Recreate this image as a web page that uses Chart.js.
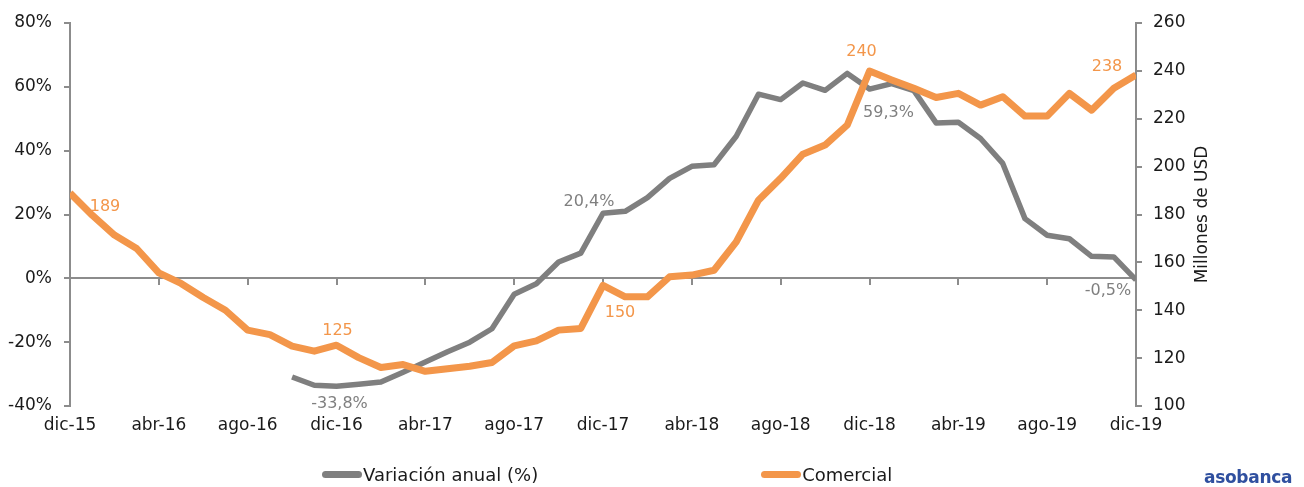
<!DOCTYPE html>
<html>
<head>
<meta charset="utf-8">
<script src="https://cdn.jsdelivr.net/npm/chart.js@4.4.1/dist/chart.umd.min.js"></script>
<style>
  html, body { margin: 0; padding: 0; background: #ffffff; }
  #wrap { position: relative; width: 1304px; height: 487px; overflow: hidden; }
  #c { position: absolute; left: 0; top: 0; }
  #legend { position: absolute; left: 322px; top: 464px; display: flex; align-items: center; gap: 223px;
            font-family: "DejaVu Sans", sans-serif; font-size: 18px; color: #1a1a1a; }
  #legend .item { display: flex; align-items: center; }
  #legend .swatch { width: 40px; height: 7px; border-radius: 4px; margin-right: 1px; }
  #logo { position: absolute; left: 1204px; top: 467px; font-family: "DejaVu Sans", sans-serif;
          font-weight: bold; font-size: 17px; color: #2f4f9f; letter-spacing: -0.3px; }
</style>
</head>
<body>
<div id="wrap">
  <canvas id="c" width="1304" height="487"></canvas>
  <div id="legend"></div>
  <div id="logo">asobanca</div>
</div>
<script>
// ---------- DATA ----------
const months = [
  'dic-15','ene-16','feb-16','mar-16','abr-16','may-16','jun-16','jul-16','ago-16','sep-16','oct-16','nov-16',
  'dic-16','ene-17','feb-17','mar-17','abr-17','may-17','jun-17','jul-17','ago-17','sep-17','oct-17','nov-17',
  'dic-17','ene-18','feb-18','mar-18','abr-18','may-18','jun-18','jul-18','ago-18','sep-18','oct-18','nov-18',
  'dic-18','ene-19','feb-19','mar-19','abr-19','may-19','jun-19','jul-19','ago-19','sep-19','oct-19','nov-19',
  'dic-19'
];

// Variación anual (%) - left axis
const variacionAnual = [
  null, null, null, null, null, null, null, null, null, null, -30.9, -33.5,
  -33.8, -33.2, -32.5, -29.4, -26.2, -23.0, -20.0, -15.8, -5.0, -1.7, 5.1, 7.9,
  20.4, 21.0, 25.3, 31.3, 35.1, 35.6, 44.5, 57.7, 56.0, 61.2, 58.9, 64.2,
  59.3, 61.0, 58.8, 48.7, 48.9, 43.8, 36.0, 18.7, 13.5, 12.4, 6.9, 6.7,
  -0.5
];

// Comercial (millones de USD) - right axis
const comercial = [
  189.0, 179.7, 171.4, 165.8, 155.6, 151.2, 145.3, 140.0, 131.7, 129.8, 125.0, 122.9,
  125.4, 120.2, 116.1, 117.3, 114.5, 115.6, 116.6, 118.2, 125.1, 127.2, 131.7, 132.4,
  150.4, 145.6, 145.6, 154.0, 154.7, 156.7, 168.6, 186.0, 195.1, 205.2, 209.0, 217.4,
  239.9, 236.2, 232.7, 228.9, 230.6, 225.7, 229.2, 221.1, 221.1, 230.6, 223.6, 232.7,
  238.3
];

const leftTicks = [-40, -20, 0, 20, 40, 60, 80];
const rightTicks = [100, 120, 140, 160, 180, 200, 220, 240, 260];

// indices of points that carry a data label
const variacionLabelIdx = [12, 24, 36, 48];
const comercialLabelIdx = [0, 12, 24, 36, 48];

// ---------- STYLE ----------
const GRAY = '#7f7f7f';
const ORANGE = '#f3964a';
const AXIS = '#8c8c8c';
const FONT = '"DejaVu Sans", sans-serif';

// label offsets (style only)
const variacionLabelOffsets = [[3, 18], [-14, -11], [19, 24], [-28, 11]];
const comercialLabelOffsets = [[35, 14], [1, -14], [17, 27], [-8, -19], [-29, -8]];

const fmtPct = v => v.toFixed(1).replace('.', ',') + '%';
const fmtNum = v => String(Math.round(v));

const pointLabels = {
  id: 'pointLabels',
  afterDatasetsDraw(chart) {
    const ctx = chart.ctx;
    const groups = [
      { ds: 0, idx: variacionLabelIdx, off: variacionLabelOffsets, fmt: fmtPct },
      { ds: 1, idx: comercialLabelIdx, off: comercialLabelOffsets, fmt: fmtNum }
    ];
    ctx.save();
    ctx.font = '16px ' + FONT;
    ctx.textAlign = 'center';
    ctx.textBaseline = 'middle';
    groups.forEach(g => {
      const meta = chart.getDatasetMeta(g.ds);
      const ds = chart.data.datasets[g.ds];
      ctx.fillStyle = ds.borderColor;
      g.idx.forEach((i, k) => {
        const el = meta.data[i];
        const v = ds.data[i].y;
        ctx.fillText(g.fmt(v), el.x + g.off[k][0], el.y + g.off[k][1]);
      });
    });
    ctx.restore();
  }
};

const rightTitle = {
  id: 'rightTitle',
  afterDraw(chart) {
    const s = chart.scales.y1;
    const ctx = chart.ctx;
    ctx.save();
    ctx.translate(s.left + 67, (s.top + s.bottom) / 2);
    ctx.rotate(-Math.PI / 2);
    ctx.font = '17px ' + FONT;
    ctx.fillStyle = '#1a1a1a';
    ctx.textAlign = 'center';
    ctx.textBaseline = 'middle';
    ctx.fillText('Millones de USD', 0, 0);
    ctx.restore();
  }
};

const chart = new Chart(document.getElementById('c'), {
  type: 'line',
  data: {
    datasets: [
      {
        label: 'Variación anual (%)',
        data: variacionAnual.map((v, i) => ({ x: i, y: v })),
        yAxisID: 'y',
        xAxisID: 'x',
        borderColor: GRAY,
        backgroundColor: GRAY,
        borderWidth: 5.5,
        pointRadius: 0,
        pointHoverRadius: 0,
        borderJoinStyle: 'round',
        tension: 0,
        order: 1
      },
      {
        label: 'Comercial',
        data: comercial.map((v, i) => ({ x: i, y: v })),
        yAxisID: 'y1',
        xAxisID: 'x',
        borderColor: ORANGE,
        backgroundColor: ORANGE,
        borderWidth: 7,
        pointRadius: 0,
        pointHoverRadius: 0,
        borderJoinStyle: 'round',
        tension: 0,
        order: 0
      }
    ]
  },
  options: {
    responsive: false,
    animation: false,
    devicePixelRatio: 1,
    layout: { padding: { top: 23, bottom: 41, left: 0, right: 0 } },
    plugins: {
      legend: { display: false },
      tooltip: { enabled: false }
    },
    scales: {
      x: {
        type: 'linear',
        position: 'bottom',
        min: 0,
        max: months.length - 1,
        offset: false,
        grid: { display: false, drawTicks: false },
        border: { display: false },
        ticks: {
          stepSize: 4,
          autoSkip: false,
          maxRotation: 0,
          padding: 9,
          color: '#1a1a1a',
          font: { family: FONT, size: 17 },
          callback: v => months[v] ?? ''
        },
        afterFit: s => { s.height = 40; }
      },
      x2: {
        type: 'linear',
        axis: 'x',
        position: { y: 0 },
        min: 0,
        max: months.length - 1,
        offset: false,
        grid: { display: true, drawOnChartArea: false, drawTicks: true, tickLength: 6, color: AXIS, lineWidth: 2 },
        border: { display: true, color: AXIS, width: 2 },
        ticks: { display: false, stepSize: 4, autoSkip: false }
      },
      y: {
        type: 'linear',
        position: 'left',
        min: leftTicks[0],
        max: leftTicks[leftTicks.length - 1],
        afterBuildTicks: s => { s.ticks = leftTicks.map(v => ({ value: v })); },
        grid: { display: true, drawOnChartArea: false, drawTicks: true, tickLength: 6, color: AXIS, lineWidth: 2 },
        border: { display: true, color: AXIS, width: 2 },
        ticks: {
          padding: 12,
          color: '#1a1a1a',
          font: { family: FONT, size: 17 },
          callback: v => v + '%'
        },
        afterFit: s => { s.width = 70; }
      },
      y1: {
        type: 'linear',
        position: 'right',
        min: rightTicks[0],
        max: rightTicks[rightTicks.length - 1],
        afterBuildTicks: s => { s.ticks = rightTicks.map(v => ({ value: v })); },
        grid: { display: true, drawOnChartArea: false, drawTicks: true, tickLength: 6, color: AXIS, lineWidth: 2 },
        border: { display: true, color: AXIS, width: 2 },
        ticks: {
          padding: 11,
          color: '#1a1a1a',
          font: { family: FONT, size: 17 },
          callback: v => String(v)
        },
        afterFit: s => { s.width = 168; }
      }
    }
  },
  plugins: [pointLabels, rightTitle]
});

// HTML legend built from the chart's own legend items (kept in dataset order)
const legendEl = document.getElementById('legend');
const items = Chart.defaults.plugins.legend.labels.generateLabels(chart)
  .sort((a, b) => a.datasetIndex - b.datasetIndex);
items.forEach(it => {
  const item = document.createElement('div');
  item.className = 'item';
  const sw = document.createElement('span');
  sw.className = 'swatch';
  sw.style.background = it.strokeStyle;
  const tx = document.createElement('span');
  tx.textContent = it.text;
  item.appendChild(sw);
  item.appendChild(tx);
  legendEl.appendChild(item);
});
</script>
</body>
</html>
